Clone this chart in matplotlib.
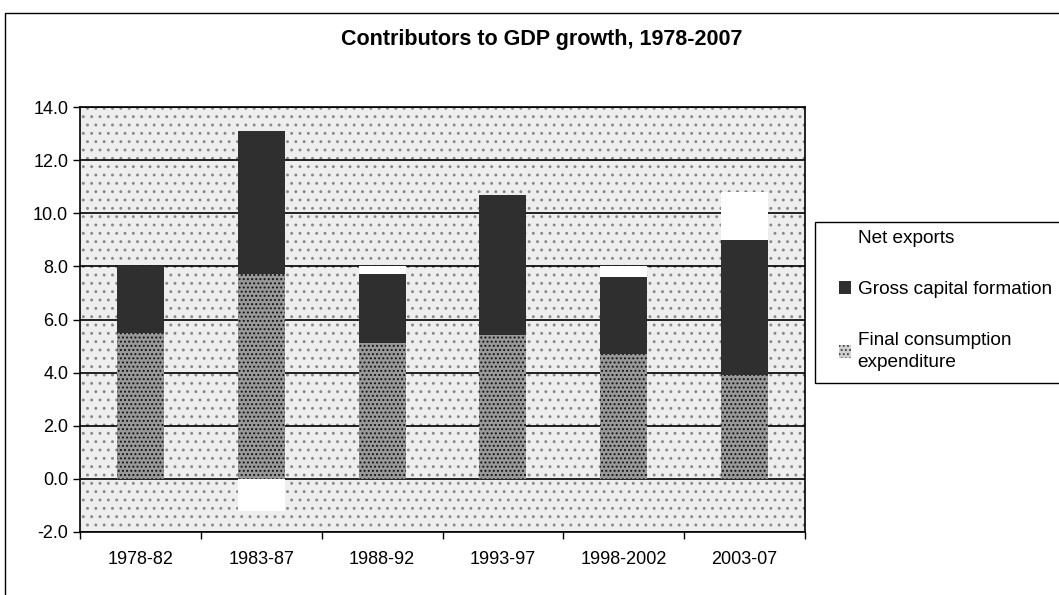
import numpy as np
import matplotlib.pyplot as plt
from matplotlib.patches import Rectangle, Patch

plt.rcParams["font.family"] = ["Liberation Sans", "DejaVu Sans"]
plt.rcParams["hatch.linewidth"] = 0.9

PERIODS = ["1978-82", "1983-87", "1988-92", "1993-97", "1998-2002", "2003-07"]
FINAL_CONSUMPTION = [5.5, 7.7, 5.1, 5.4, 4.7, 3.9]
GROSS_CAPITAL = [2.5, 5.4, 2.6, 5.3, 2.9, 5.1]
NET_EXPORTS = [0.0, -1.2, 0.3, 0.0, 0.4, 1.8]

Y_TICKS = [-2.0, 0.0, 2.0, 4.0, 6.0, 8.0, 10.0, 12.0, 14.0]

OUTPUT_FIG = "out.png"


def main():
    fig = plt.figure(figsize=(10.59, 5.95), dpi=100)
    ax = fig.add_axes([80 / 1059, 1 - 532 / 595, 725 / 1059, 425 / 595])

    # scanned-looking outer frame, cut off at right and bottom
    fig.patches.append(Rectangle((5 / 1059, -0.05), 1.2, 1.05 - 13 / 595,
                                 transform=fig.transFigure, fill=False,
                                 edgecolor="black", linewidth=1.0))

    # stippled plot area
    ax.add_patch(Rectangle((0, 0), 1, 1, transform=ax.transAxes,
                           facecolor="#eeeeee", edgecolor="#888888",
                           hatch="..", linewidth=0, zorder=0))

    x = np.arange(len(PERIODS))
    fce = np.array(FINAL_CONSUMPTION)
    gcf = np.array(GROSS_CAPITAL)
    nx = np.array(NET_EXPORTS)
    width = 0.39

    ax.bar(x, fce, width, facecolor="#999999", edgecolor="#111111",
           hatch="....", linewidth=0, zorder=3)
    ax.bar(x, gcf, width, bottom=fce, color="#2f2f2f", linewidth=0, zorder=3)
    nx_bottom = np.where(nx >= 0, fce + gcf, 0)
    ax.bar(x, nx, width, bottom=nx_bottom, color="white", linewidth=0, zorder=3)

    for y in Y_TICKS:
        ax.axhline(y, color="black", linewidth=1.2, zorder=2)

    ax.set_xlim(-0.5, len(PERIODS) - 0.5)
    ax.set_ylim(-2, 14)
    ax.set_yticks(Y_TICKS)
    ax.set_yticklabels([f"{v:.1f}" for v in Y_TICKS])
    ax.set_xticks(x)
    ax.set_xticklabels(PERIODS)
    ax.set_xticks(np.arange(len(PERIODS) + 1) - 0.5, minor=True)
    ax.tick_params(axis="x", which="major", length=0, pad=14, labelsize=13)
    ax.tick_params(axis="x", which="minor", length=5, width=1, direction="out")
    ax.tick_params(axis="y", length=5, width=1, direction="out", labelsize=13)
    for s in ax.spines.values():
        s.set_linewidth(1.2)
        s.set_zorder(4)

    fig.text(542 / 1059, 1 - 40 / 595, "Contributors to GDP growth, 1978-2007",
             ha="center", va="center", fontsize=15.5, fontweight="bold")

    # legend box runs off the right edge like the scan
    fig.patches.append(Rectangle((815 / 1059, 1 - 383 / 595), 0.3, 161 / 595,
                                 transform=fig.transFigure, fill=False,
                                 edgecolor="black", linewidth=1.0))
    handles = [
        Patch(facecolor="white", edgecolor="white", label="Net exports"),
        Patch(facecolor="#2f2f2f", label="Gross capital formation"),
        Patch(facecolor="#d0d0d0", edgecolor="#444444", hatch="....",
              linewidth=0, label="Final consumption\nexpenditure"),
    ]
    leg = fig.legend(handles=handles, loc="upper left",
                     bbox_to_anchor=(833 / 1059, 1 - 224 / 595),
                     frameon=False, fontsize=13.7,
                     handlelength=0.65, handleheight=0.65,
                     handletextpad=0.35, labelspacing=1.8,
                     borderpad=0.3, borderaxespad=0)
    for t in leg.get_texts():
        t.set_linespacing(1.35)

    plt.savefig(OUTPUT_FIG)
    print(f"Saved: {OUTPUT_FIG}")


if __name__ == "__main__":
    main()
